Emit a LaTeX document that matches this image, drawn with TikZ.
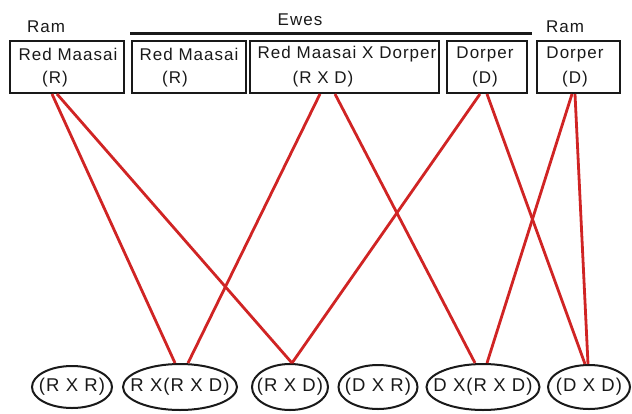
\documentclass[tikz,border=0pt]{standalone}
\usepackage{fontspec}
\setmainfont[LetterSpace=6]{Liberation Sans}
\usetikzlibrary{shapes.geometric,calc}
\definecolor{linkred}{RGB}{208,36,36}
\begin{document}
\begin{tikzpicture}[x=1pt,y=-1pt,
  box/.style={draw=black!90,line width=2pt,rectangle,minimum height=52pt,inner sep=0pt},
  txt/.style={inner sep=0pt,font=\fontsize{17}{20}\selectfont,text=black!90},
  off/.style={draw=black!90,line width=2pt,ellipse,inner xsep=-14pt,inner ysep=0pt,font=\fontsize{18.5}{20}\selectfont,text=black!90},
  link/.style={draw=linkred,line width=2.8pt}]
\useasboundingbox (0,0) rectangle (632,413);
% headers
\node[txt] (ram1) at (46,27) {Ram};
\node[txt] (ewes) at (300,20) {Ewes};
\node[txt] (ram2) at (565,27) {Ram};
\coordinate (barL) at (130,33);
\coordinate (barR) at (532,33);
\draw[line width=3pt,black!90] (barL) -- (barR);
% boxes
\node[box,minimum width=114pt] (b1) at (67,67) {};
\node[box,minimum width=114pt] (b2) at (189,67) {};
\node[box,minimum width=189pt] (b3) at (344.5,67) {};
\node[box,minimum width=80pt] (b4) at (487,67) {};
\node[box,minimum width=83pt] (b5) at (578.5,67) {};
\node[txt] (b1a) at (68,54) {Red Maasai};
\node[txt] (b1b) at (55,79) {(R)};
\node[txt] (b2a) at (189,54) {Red Maasai};
\node[txt] (b2b) at (175,79) {(R)};
\node[txt] (b3a) at (347,54) {Red Maasai X Dorper};
\node[txt] (b3b) at (323,79) {(R X D)};
\node[txt] (b4a) at (485,54) {Dorper};
\node[txt] (b4b) at (485,79) {(D)};
\node[txt] (b5a) at (575,54) {Dorper};
\node[txt] (b5b) at (575,79) {(D)};
% offspring
\node[off,minimum width=80pt,minimum height=42pt] (e1) at (72,387) {(R X R)};
\node[off,minimum width=114pt,minimum height=46pt] (e2) at (180,387) {R X(R X D)};
\node[off,minimum width=76pt,minimum height=46pt] (e3) at (290,387) {(R X D)};
\node[off,minimum width=79pt,minimum height=44pt] (e4) at (378,387) {(D X R)};
\node[off,minimum width=113pt,minimum height=46pt] (e5) at (483,387) {D X(R X D)};
\node[off,minimum width=82pt,minimum height=44pt] (e6) at (589,387) {(D X D)};
% links
\draw[link] ($(b1.south)+(-15,0)$) -- ($(e2.north)+(-5,0)$);
\draw[link] ($(b1.south)+(-10,0)$) -- ($(e3.north)+(2,0)$);
\draw[link] ($(b3.south)+(-24.5,0)$) -- ($(e2.north)+(8,0)$);
\draw[link] ($(b3.south)+(-9.5,0)$) -- ($(e5.north)+(-8,0)$);
\draw[link] ($(b4.south)+(-7,0)$) -- ($(e3.north)+(2,0)$);
\draw[link] ($(b4.south)+(0,0)$) -- ($(e6.north)+(-4,0)$);
\draw[link] ($(b5.south)+(-6.5,0)$) -- ($(e5.north)+(4,0)$);
\draw[link] ($(b5.south)+(-3.5,0)$) -- ($(e6.north)+(-1,0)$);
\end{tikzpicture}
\end{document}
